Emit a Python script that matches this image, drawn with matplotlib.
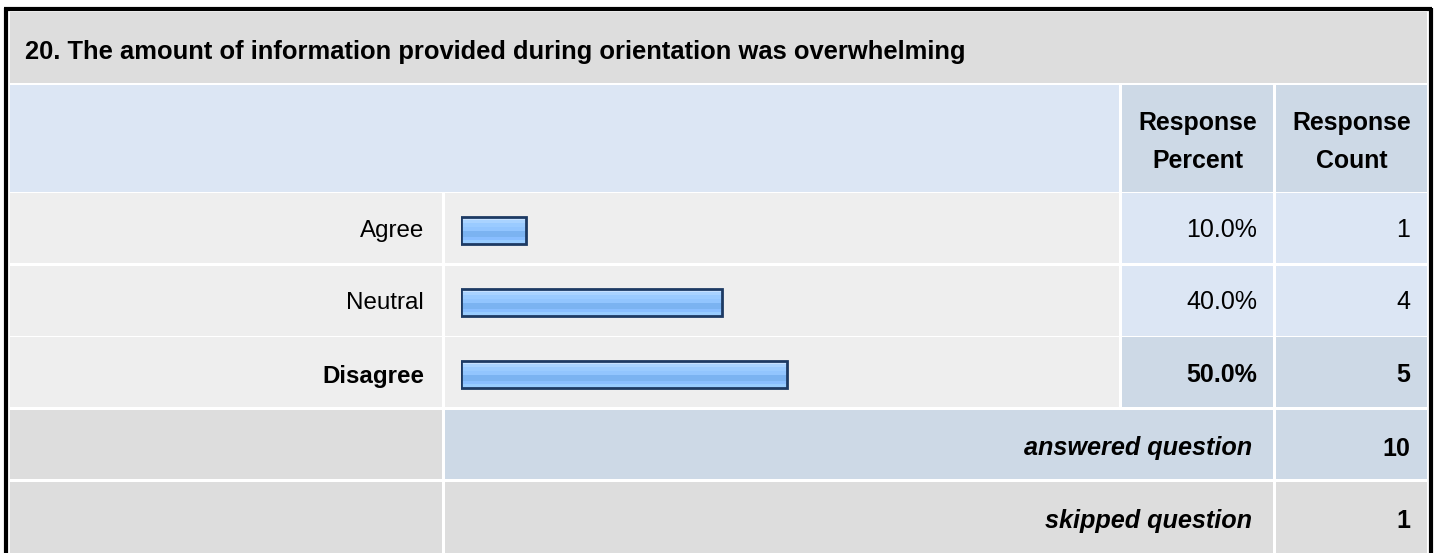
import matplotlib
matplotlib.use("Agg")
import matplotlib.pyplot as plt
from matplotlib.patches import Rectangle
import matplotlib.colors as mcolors
import numpy as np

# ---------------- data ----------------
title = "20. The amount of information provided during orientation was overwhelming"
categories = ["Agree", "Neutral", "Disagree"]
percents = [10.0, 40.0, 50.0]
counts = [1, 4, 5]
answered = 10
skipped = 1
highlight = "Disagree"

# ---------------- figure ----------------
W, H = 1437, 553
DPI = 100
fig = plt.figure(figsize=(W / DPI, H / DPI), dpi=DPI)
fig.patch.set_facecolor("white")
plt.rcParams["font.family"] = ["Liberation Sans", "DejaVu Sans"]

# background axes in pixel coordinates (layout only)
bg = fig.add_axes([0, 0, 1, 1])
bg.set_xlim(0, W)
bg.set_ylim(H, 0)
bg.axis("off")

C_TITLE = "#dddddd"
C_HEAD = "#dce6f4"
C_HEAD2 = "#cdd9e6"
C_ROW = "#eeeeee"
C_VAL = "#dce6f4"
C_HIL = "#cdd9e6"
C_GRAY = "#dddddd"
TXT = "#000000"

def cell(x0, x1, y0, y1, color):
    bg.add_patch(Rectangle((x0, y0), x1 - x0, y1 - y0, facecolor=color,
                           edgecolor="none", zorder=1))

# column edges
LX0, LX1 = 10, 442
BX0, BX1 = 445, 1119
PX0, PX1 = 1122, 1273
CX0, CX1 = 1276, 1427

# outer black frame
bg.plot([5.5, 5.5], [8, H + 5], color="black", lw=3, zorder=3, solid_capstyle="butt")
bg.plot([1430.5, 1430.5], [8, H + 5], color="black", lw=3, zorder=3, solid_capstyle="butt")
bg.plot([4, 1432], [8.5, 8.5], color="black", lw=3, zorder=3, solid_capstyle="butt")

# title row
cell(LX0, CX1, 12, 83, C_TITLE)
bg.text(25, 58.5, title, fontsize=18.4, fontweight="bold", ha="left", va="baseline",
        color=TXT, zorder=4)

# header row
cell(LX0, BX1, 85, 192, C_HEAD)
cell(PX0, PX1, 85, 192, C_HEAD2)
cell(CX0, CX1, 85, 192, C_HEAD2)
for cx, l1, l2 in [((PX0 + PX1) / 2, "Response", "Percent"),
                   ((CX0 + CX1) / 2, "Response", "Count")]:
    bg.text(cx, 130, l1, fontsize=17.9, fontweight="bold", ha="center", va="baseline",
            color=TXT, zorder=4)
    bg.text(cx, 167.5, l2, fontsize=17.9, fontweight="bold", ha="center", va="baseline",
            color=TXT, zorder=4)

# data rows
row_tops = [193, 266, 337]
baselines = [237, 309, 382.5]
row_h = 70
for i, (cat, p, c) in enumerate(zip(categories, percents, counts)):
    y0 = row_tops[i]
    y1 = y0 + row_h
    hil = cat == highlight
    cell(LX0, LX1, y0, y1, C_ROW)
    cell(BX0, BX1, y0, y1, C_ROW)
    cell(PX0, PX1, y0, y1, C_HIL if hil else C_VAL)
    cell(CX0, CX1, y0, y1, C_HIL if hil else C_VAL)
    yb = baselines[i]
    fw = "bold" if hil else "normal"
    bg.text(424, yb, cat, fontsize=17.4, fontweight=fw, ha="right", va="baseline",
            color=TXT, zorder=4)
    bg.text(1257, yb, f"{p:.1f}%", fontsize=18, fontweight=fw, ha="right",
            va="baseline", color=TXT, zorder=4)
    bg.text(1410, yb, f"{c}", fontsize=18, fontweight=fw, ha="right",
            va="baseline", color=TXT, zorder=4)

# answered row
cell(LX0, LX1, 410, 479, C_GRAY)
cell(BX0, PX1, 410, 479, C_HIL)
cell(CX0, CX1, 410, 479, C_HIL)
bg.text(1252, 455.5, "answered question", fontsize=18.2, fontweight="bold",
        style="italic", ha="right", va="baseline", color=TXT, zorder=4)
bg.text(1410, 455.5, f"{answered}", fontsize=18, fontweight="bold",
        ha="right", va="baseline", color=TXT, zorder=4)

# skipped row
cell(LX0, LX1, 482, H + 10, C_GRAY)
cell(BX0, PX1, 482, H + 10, C_GRAY)
cell(CX0, CX1, 482, H + 10, C_GRAY)
bg.text(1252, 528, "skipped question", fontsize=18.2, fontweight="bold",
        style="italic", ha="right", va="baseline", color=TXT, zorder=4)
bg.text(1410, 528, f"{skipped}", fontsize=18, fontweight="bold",
        ha="right", va="baseline", color=TXT, zorder=4)

# ---------------- bar axes (data scale 0..100 %) ----------------
bx0_px, bx1_px = 460.5, 460.5 + 653
by0_px, by1_px = 195, 410
bar_ax = fig.add_axes([bx0_px / W, 1 - by1_px / H, (bx1_px - bx0_px) / W,
                       (by1_px - by0_px) / H])
bar_ax.set_xlim(0, 100)
bar_ax.set_ylim(len(categories) - 0.5, -0.5)
bar_ax.axis("off")
bar_ax.patch.set_alpha(0)

ypos = np.arange(len(categories))
bar_h = 0.38
bars = bar_ax.barh(ypos, percents, height=bar_h, color="none",
                   edgecolor="#1d3a63", linewidth=2.0, zorder=3)

stops = ["#c6e1ff", "#c6e1ff", "#a9d3ff", "#a9d3ff", "#9acbff", "#9acbff",
         "#92c5fe", "#92c5fe", "#7bb3f1", "#7bb3f1", "#7bb3f1", "#89beff",
         "#89beff", "#98ccff", "#98ccff"]
grad = np.array([mcolors.to_rgb(s) for s in stops])[:, None, :]
for b in bars:
    x0 = b.get_x()
    w = b.get_width()
    y0 = b.get_y()
    h = b.get_height()
    im = bar_ax.imshow(grad, extent=(x0, x0 + w, y0 + h, y0), origin="upper",
                       aspect="auto", interpolation="nearest", zorder=2)
    im.set_clip_path(b)
bar_ax.set_xlim(0, 100)
bar_ax.set_ylim(len(categories) - 0.5, -0.5)

fig.savefig("out.png", dpi=DPI, facecolor="white")
